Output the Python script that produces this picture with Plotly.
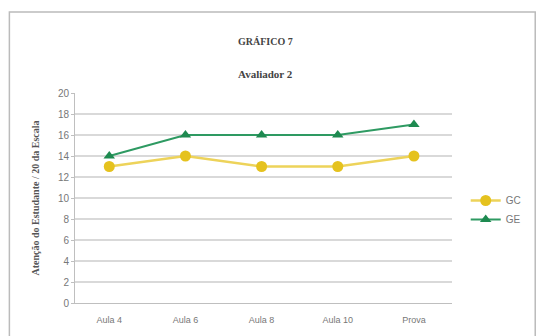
import plotly.graph_objects as go

categories = ["Aula 4", "Aula 6", "Aula 8", "Aula 10", "Prova"]
gc_values = [13, 14, 13, 13, 14]
ge_values = [14, 16, 16, 16, 17]
y_ticks = list(range(0, 21, 2))

fig = go.Figure()
fig.add_trace(go.Scatter(
    x=categories, y=gc_values, name="GC", mode="lines+markers",
    line=dict(color="#EDD35A", width=2.5),
    marker=dict(symbol="circle", size=11, color="#E5C21E"),
))
fig.add_trace(go.Scatter(
    x=categories, y=ge_values, name="GE", mode="lines+markers",
    line=dict(color="#2E9A62", width=2),
    marker=dict(symbol="triangle-up", size=10, color="#1E8A50"),
))

L, R, T, B = 75, 78, 93, 33
W, H = 538, 336
pw, ph = W - L - R, H - T - B

def px(x):
    return (x - L) / pw

def py(y):
    return (H - B - y) / ph

fig.update_layout(
    width=W, height=H,
    margin=dict(l=L, r=R, t=T, b=B),
    paper_bgcolor="white", plot_bgcolor="white",
    font=dict(family="Liberation Sans, Arial", size=9, color="#666666"),
    showlegend=True,
    legend=dict(x=px(474), y=py(210), xanchor="left", yanchor="middle",
                font=dict(size=10, color="#777777"),
                bgcolor="rgba(0,0,0,0)"),
    xaxis=dict(range=[-0.45, 4.5], showgrid=False, showline=True, linecolor="#bfbfbf", linewidth=1,
               ticks="outside", ticklen=8, tickcolor="rgba(0,0,0,0)",
               tickfont=dict(size=9, color="#777777")),
    yaxis=dict(range=[0, 20], tickvals=y_ticks, showgrid=True, gridcolor="#d9d9d9",
               gridwidth=1.5, showline=True, linecolor="#bfbfbf", zeroline=False,
               ticks="outside", ticklen=3, tickcolor="#bfbfbf",
               tickfont=dict(size=10, color="#777777"),
               title=dict(text="<b>Atenção do Estudante / 20 da Escala</b>",
                          font=dict(family="Liberation Serif, Times New Roman", size=10, color="#555555"),
                          standoff=16)),
    annotations=[
        dict(text="<b>GRÁFICO 7</b>", x=px(270), y=py(42), xref="paper", yref="paper",
             yanchor="middle", showarrow=False,
             font=dict(family="Liberation Serif, Times New Roman", size=10, color="#444444")),
        dict(text="<b>Avaliador 2</b>", x=px(270), y=py(74), xref="paper", yref="paper",
             yanchor="middle", showarrow=False,
             font=dict(family="Liberation Serif, Times New Roman", size=11, color="#444444")),
    ],
    shapes=[
        dict(type="rect", xref="paper", yref="paper", x0=px(8), x1=px(545), y0=py(345), y1=py(12),
             line=dict(color="#bbbbbb", width=1.5), fillcolor="rgba(0,0,0,0)", layer="below"),
    ],
)

fig.write_html("out.html")
